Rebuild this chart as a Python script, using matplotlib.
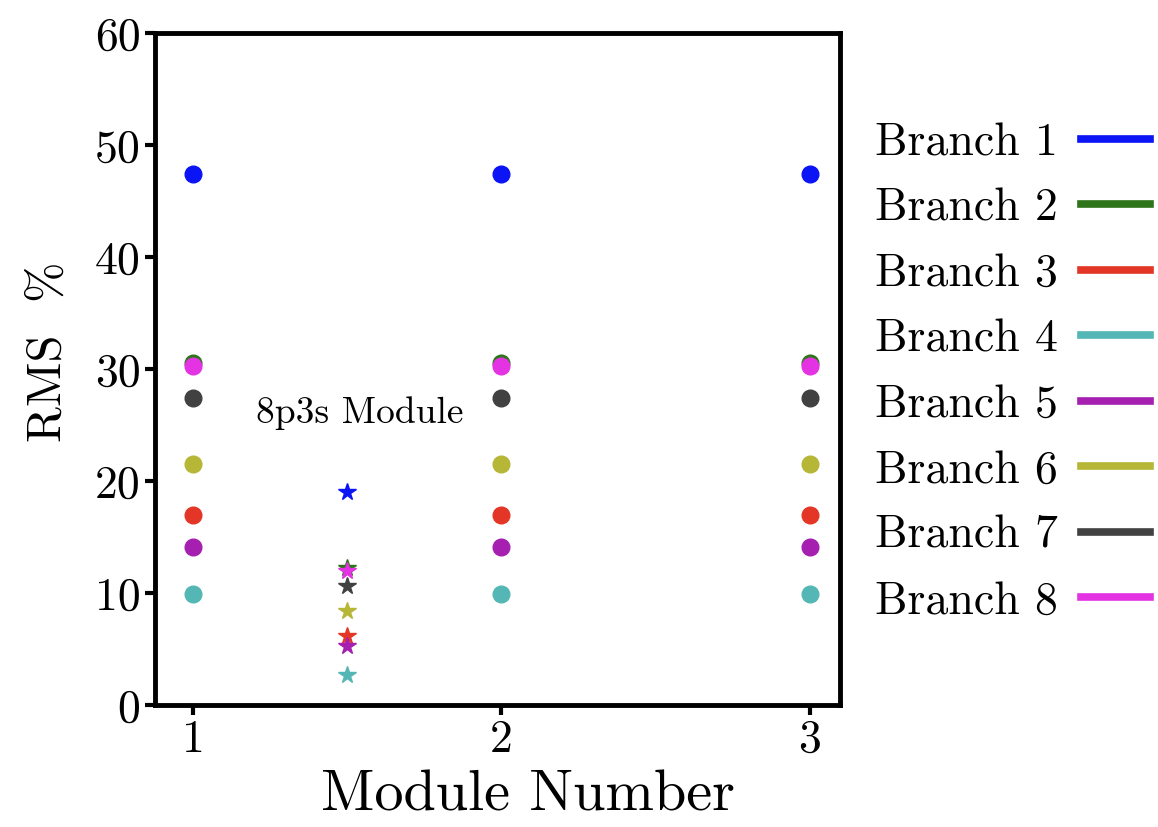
import matplotlib
matplotlib.use('Agg')
import matplotlib.pyplot as plt
from matplotlib.lines import Line2D

plt.rcParams['font.family'] = 'cmr10'
plt.rcParams['mathtext.fontset'] = 'cm'
plt.rcParams['axes.unicode_minus'] = False

# Data
modules = [1, 2, 3]
branches = ['Branch 1', 'Branch 2', 'Branch 3', 'Branch 4',
            'Branch 5', 'Branch 6', 'Branch 7', 'Branch 8']
colors = ['#0a14f5', '#2e7519', '#e33626', '#55b7b5',
          '#a51fb0', '#b6b637', '#414141', '#e333e3']
branch_rms = [47.4, 30.5, 17.0, 9.9, 14.1, 21.5, 27.4, 30.3]   # same for each module
module_8p3s_x = 1.5
module_8p3s_rms = [19.0, 12.2, 6.2, 2.7, 5.3, 8.4, 10.6, 12.0]

fig = plt.figure(figsize=(11.58, 8.27), dpi=100)
ax = fig.add_axes([0.134, 0.1475, 0.591, 0.8125])

for i in range(len(branches)):
    ax.plot(modules, [branch_rms[i]] * len(modules), 'o', color=colors[i],
            markersize=12, linestyle='none')
    ax.plot([module_8p3s_x], [module_8p3s_rms[i]], '*', color=colors[i],
            markersize=13, linestyle='none')

ax.text(1.54, 26.1, '8p3s Module', fontsize=27, ha='center', va='center')

ax.set_xlim(0.877, 3.097)
ax.set_ylim(0, 60)
ax.set_xticks(modules)
ax.set_yticks(range(0, 61, 10))
ax.tick_params(labelsize=33, width=3, length=7, direction='out')
for sp in ax.spines.values():
    sp.set_linewidth(3.5)

ax.set_xlabel('Module Number', fontsize=42)
ax.xaxis.set_label_coords(0.545, -0.097)
ax.set_ylabel('RMS  %', fontsize=35)
ax.yaxis.set_label_coords(-0.123, 0.526)

handles = [Line2D([0], [0], color=c, linewidth=5.5) for c in colors]
ax.legend(handles, branches, loc='center left', bbox_to_anchor=(1.025, 0.495),
          frameon=False, fontsize=33, markerfirst=False, handlelength=1.5,
          handletextpad=0.5, labelspacing=0.52, borderaxespad=0)

fig.savefig('out.png', dpi=100, facecolor='white')
